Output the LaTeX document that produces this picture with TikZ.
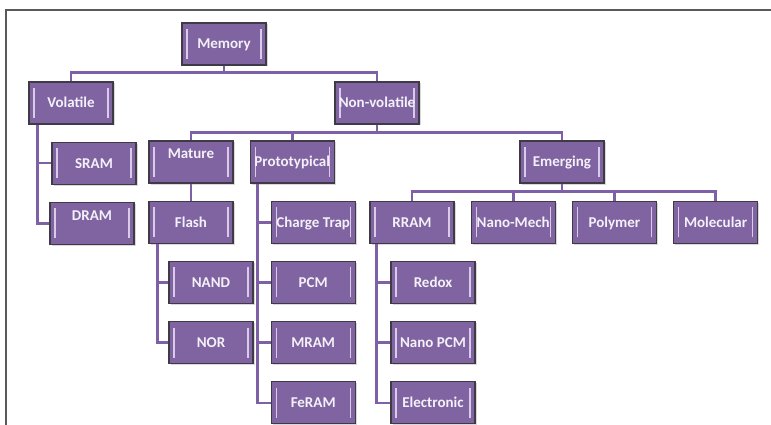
\documentclass[tikz,border=0pt]{standalone}
\usepackage{fontspec}
\setmainfont{Carlito}
\usetikzlibrary{positioning,shadows}
\definecolor{memfill}{HTML}{8064A2}
\definecolor{memline}{HTML}{7D60A5}
\definecolor{memedge}{HTML}{3F3A45}
\definecolor{memtext}{HTML}{F4F0F8}
\definecolor{memshine}{HTML}{D8CCEA}

\begin{document}
\begin{tikzpicture} [
		x=1pt, y=-1pt,
		node distance=17pt and 16pt,
		membox/.style = { rectangle, draw=memedge, line width=1.2pt, fill=memfill,
			minimum width=84pt, minimum height=42pt, inner sep=1pt,
			text=memtext, font=\fontsize{15}{18}\selectfont\bfseries,
			text height=10pt, text depth=0pt,
			drop shadow={shadow xshift=1.5pt, shadow yshift=-1.5pt, opacity=.3},
			path picture={
				\draw [memshine, line width=1.2pt]
					([xshift=5pt,yshift=-6pt]path picture bounding box.north west) --
					([xshift=5pt,yshift=6pt]path picture bounding box.south west)
					([xshift=-5pt,yshift=-6pt]path picture bounding box.north east) --
					([xshift=-5pt,yshift=6pt]path picture bounding box.south east);
			} },
		toptext/.style  = { text depth=16pt },
		line/.style     = { draw=memline, line width=2.6pt },
		pageframe/.style = { draw=black!65, line width=1.5pt },
	]
	\useasboundingbox (0,0) rectangle (771,425);
	\draw [pageframe] (6,425) -- (6,10) -- (771,10);
	% Define nodes of the memory tree
	\begin{scope}
		\node [membox] (memory) at (224,44) {Memory};
		\node [membox] (volatile) at (71,103) {Volatile};
		\node [membox] (nonvol) at (377,103) {Non-volatile};
		\node [membox, below=of volatile, xshift=23pt] (sram) {SRAM};
		\node [membox, toptext, below=of sram, xshift=-2pt] (dram) {DRAM};
		\node [membox, toptext] (mature) at (191,162) {Mature};
		\node [membox, right=of mature] (proto) {Prototypical};
		\node [membox] (emerging) at (562,162) {Emerging};
		\node [membox, below=of mature] (flash) {Flash};
		\node [membox, below=of flash, xshift=20pt] (nand) {NAND};
		\node [membox, below=of nand] (nor) {NOR};
		\node [membox, below=of proto, xshift=21pt] (chargetrap) {Charge Trap};
		\node [membox, below=of chargetrap] (pcm) {PCM};
		\node [membox, below=of pcm] (mram) {MRAM};
		\node [membox, below=of mram] (feram) {FeRAM};
		\node [membox, below=of emerging, xshift=-150pt] (rram) {RRAM};
		\node [membox, right=of rram] (nanomech) {Nano-Mech};
		\node [membox, right=of nanomech] (polymer) {Polymer};
		\node [membox, right=of polymer] (molecular) {Molecular};
		\node [membox, below=of rram, xshift=21pt] (redox) {Redox};
		\node [membox, below=of redox] (nanopcm) {Nano PCM};
		\node [membox, below=of nanopcm] (electronic) {Electronic};
	\end{scope}
	% connect all nodes defined above
	\begin{scope} [every path/.style=line]
		\path (memory.south) -- ++(0,7) -| (volatile.north);
		\path (memory.south) -- ++(0,7) -| (nonvol.north);
		\path (nonvol.south) -- ++(0,8) -| (mature.north);
		\path (nonvol.south) -- ++(0,8) -| (proto.north);
		\path (nonvol.south) -- ++(0,8) -| (emerging.north);
		\path ([xshift=9pt]volatile.south west) |- (sram.west);
		\path ([xshift=9pt]volatile.south west) |- (dram.west);
		\path (mature) -- (flash);
		\path ([xshift=9pt]flash.south west) |- (nand.west);
		\path ([xshift=9pt]flash.south west) |- (nor.west);
		\path ([xshift=8pt]proto.south west) |- (chargetrap.west);
		\path ([xshift=8pt]proto.south west) |- (pcm.west);
		\path ([xshift=8pt]proto.south west) |- (mram.west);
		\path ([xshift=8pt]proto.south west) |- (feram.west);
		\path (emerging.south) -- ++(0,8) -| (rram.north);
		\path (emerging.south) -- ++(0,8) -| (nanomech.north);
		\path (emerging.south) -- ++(0,8) -| (polymer.north);
		\path (emerging.south) -- ++(0,8) -| (molecular.north);
		\path ([xshift=7pt]rram.south west) |- (redox.west);
		\path ([xshift=7pt]rram.south west) |- (nanopcm.west);
		\path ([xshift=7pt]rram.south west) |- (electronic.west);
	\end{scope}
\end{tikzpicture}
\end{document}
